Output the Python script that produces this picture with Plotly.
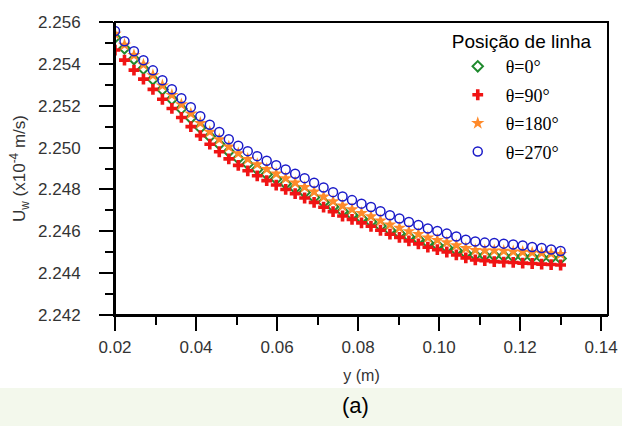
import plotly.graph_objects as go

# ---- data ----
y_pos = [0.02000, 0.02234, 0.02468, 0.02702, 0.02936, 0.03170, 0.03404, 0.03638,
         0.03872, 0.04106, 0.04340, 0.04574, 0.04809, 0.05043, 0.05277, 0.05511,
         0.05745, 0.05979, 0.06213, 0.06447, 0.06681, 0.06915, 0.07149, 0.07383,
         0.07617, 0.07851, 0.08085, 0.08319, 0.08553, 0.08787, 0.09021, 0.09255,
         0.09489, 0.09723, 0.09957, 0.10191, 0.10426, 0.10660, 0.10894, 0.11128,
         0.11362, 0.11596, 0.11830, 0.12064, 0.12298, 0.12532, 0.12766, 0.13000]

u_0 = [2.25526, 2.25474, 2.25423, 2.25377, 2.25326, 2.25277, 2.25231, 2.25186,
       2.25141, 2.25095, 2.25053, 2.25016, 2.24981, 2.24948, 2.24921, 2.24896,
       2.24872, 2.24850, 2.24827, 2.24806, 2.24785, 2.24762, 2.24739, 2.24717,
       2.24696, 2.24678, 2.24661, 2.24645, 2.24625, 2.24605, 2.24590, 2.24574,
       2.24561, 2.24545, 2.24533, 2.24522, 2.24509, 2.24495, 2.24486, 2.24484,
       2.24484, 2.24482, 2.24479, 2.24479, 2.24477, 2.24474, 2.24472, 2.24470]

u_90 = [2.25466, 2.25418, 2.25370, 2.25327, 2.25278, 2.25231, 2.25187, 2.25144,
        2.25100, 2.25057, 2.25016, 2.24980, 2.24946, 2.24915, 2.24889, 2.24865,
        2.24842, 2.24821, 2.24800, 2.24780, 2.24759, 2.24738, 2.24715, 2.24694,
        2.24673, 2.24657, 2.24640, 2.24624, 2.24605, 2.24586, 2.24571, 2.24554,
        2.24540, 2.24524, 2.24512, 2.24501, 2.24487, 2.24473, 2.24463, 2.24460,
        2.24455, 2.24453, 2.24451, 2.24448, 2.24446, 2.24443, 2.24441, 2.24439]

u_180 = [2.25543, 2.25491, 2.25441, 2.25396, 2.25345, 2.25296, 2.25251, 2.25206,
         2.25162, 2.25117, 2.25075, 2.25039, 2.25004, 2.24972, 2.24945, 2.24920,
         2.24897, 2.24875, 2.24853, 2.24832, 2.24811, 2.24789, 2.24765, 2.24743,
         2.24722, 2.24705, 2.24687, 2.24671, 2.24651, 2.24632, 2.24616, 2.24600,
         2.24586, 2.24570, 2.24558, 2.24547, 2.24533, 2.24519, 2.24510, 2.24508,
         2.24508, 2.24506, 2.24503, 2.24501, 2.24498, 2.24496, 2.24494, 2.24491]

u_270 = [2.25557, 2.25508, 2.25460, 2.25417, 2.25369, 2.25322, 2.25279, 2.25236,
         2.25193, 2.25150, 2.25109, 2.25074, 2.25040, 2.25009, 2.24983, 2.24959,
         2.24937, 2.24916, 2.24895, 2.24875, 2.24854, 2.24832, 2.24809, 2.24787,
         2.24766, 2.24749, 2.24732, 2.24716, 2.24696, 2.24677, 2.24661, 2.24644,
         2.24630, 2.24613, 2.24601, 2.24589, 2.24575, 2.24560, 2.24551, 2.24546,
         2.24544, 2.24541, 2.24537, 2.24532, 2.24525, 2.24520, 2.24513, 2.24506]

names = ["θ=0°", "θ=90°", "θ=180°", "θ=270°"]
x_ticks = [0.02, 0.04, 0.06, 0.08, 0.10, 0.12, 0.14]
x_tick_labels = ["0.02", "0.04", "0.06", "0.08", "0.10", "0.12", "0.14"]
y_ticks = [2.242, 2.244, 2.246, 2.248, 2.250, 2.252, 2.254, 2.256]
y_tick_labels = ["2.242", "2.244", "2.246", "2.248", "2.250", "2.252", "2.254", "2.256"]

styles = [
    dict(symbol="diamond-open", size=8, color="#1f8a2e", line=dict(width=2, color="#1f8a2e")),
    dict(symbol="cross", size=9, color="#f01414", line=dict(width=0)),
    dict(symbol="star", size=10, color="#ff8a2a", line=dict(width=0)),
    dict(symbol="circle-open", size=9, color="#1a1ac8", line=dict(width=1.5, color="#1a1ac8")),
]

fig = go.Figure()
for i, (nm, u, st) in enumerate(zip(names, [u_0, u_90, u_180, u_270], styles)):
    fig.add_trace(go.Scatter(x=y_pos, y=u, mode="markers", name=nm,
                             legendgroup=str(i), marker=st))

axis_common = dict(showline=True, linecolor="black", linewidth=2, mirror=False,
                   ticks="outside", ticklen=14, tickwidth=2, tickcolor="black",
                   showgrid=False, zeroline=False, automargin=False,
                   tickfont=dict(family="Liberation Sans, Arial", size=17, color="#333333"))

fig.update_xaxes(range=[0.02, 0.1417], tickvals=x_ticks, ticktext=x_tick_labels,
                 ticklabelstandoff=2,
                 minor=dict(dtick=0.01, tick0=0.02, ticklen=8, tickwidth=1.5,
                            tickcolor="black", ticks="outside"),
                 title=dict(text="y (m)", standoff=13,
                            font=dict(family="Liberation Sans, Arial", size=16, color="#333333")),
                 **axis_common)
fig.update_yaxes(range=[2.242, 2.256], tickvals=y_ticks, ticktext=y_tick_labels,
                 ticklabelstandoff=15,
                 minor=dict(dtick=0.001, tick0=2.242, ticklen=8, tickwidth=1.5,
                            tickcolor="black", ticks="outside"),
                 title=dict(text="U<sub>w</sub> (x10<sup>-4</sup> m/s)", standoff=8,
                            font=dict(family="Liberation Sans, Arial", size=17, color="#333333")),
                 **axis_common)

# plot frame (top and right edges)
fig.add_shape(type="rect", xref="paper", yref="paper", x0=0, x1=1, y0=0, y1=1,
              line=dict(color="black", width=2), layer="above")

fig.add_shape(type="rect", xref="paper", yref="paper", x0=-0.3, x1=1.1,
              y0=-0.4, y1=-0.249, fillcolor="#f3f8ec", line=dict(width=0), layer="below")

fig.add_annotation(text="(a)", xref="paper", yref="paper", x=0.487, y=-0.36,
                   showarrow=False, font=dict(family="Liberation Sans, Arial", size=22, color="black"))

fig.update_layout(
    width=622, height=426,
    margin=dict(l=115, r=14, t=22, b=111),
    paper_bgcolor="white", plot_bgcolor="white",
    showlegend=True,
    legend=dict(x=0.679, y=0.995, xanchor="left", yanchor="top",
                bgcolor="rgba(255,255,255,0)", borderwidth=0,
                tracegroupgap=2, itemwidth=46,
                title=dict(text="Posição de linha",
                           font=dict(family="Liberation Sans, Arial", size=19, color="black")),
                font=dict(family="Liberation Serif, Times New Roman", size=18, color="black")),
)

fig.write_html("out.html", config={"displayModeBar": False},
               post_script="document.body.style.margin='0';")
